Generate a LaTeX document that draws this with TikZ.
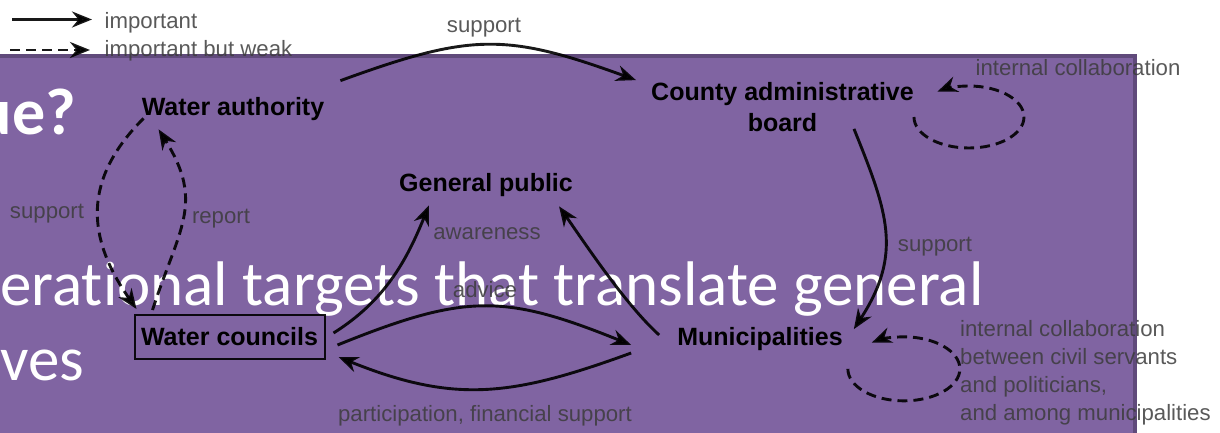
\documentclass[tikz,border=0pt]{standalone}
\usepackage{fontspec}
\setmainfont{Liberation Sans}
\newfontfamily\slidefont[Ligatures=NoCommon]{Carlito}
\usepackage{xcolor}
\usetikzlibrary{arrows.meta}
\definecolor{slidepurple}{HTML}{8064A2}
\definecolor{slideedge}{HTML}{604A7B}
\definecolor{labelgray}{HTML}{3C3C3C}
\tikzset{
    x=1pt, y=1pt, % one unit is one pixel of the slide
    actor/.style={font=\fontsize{25}{31}\selectfont\bfseries, inner sep=0pt, align=center}, % the bold names
    lbl/.style={font=\fontsize{22.2}{28}\selectfont, text=labelgray, text opacity=0.85, inner sep=0pt}, % grey texts on the edges
    big/.style={font=\slidefont\fontsize{63}{75}\selectfont, text=white, inner sep=0pt}, % slide text under the graph
}
\tikzstyle{arrow} = [line width=2.9pt, opacity=0.9, -{Stealth[length=20pt,width=16pt]}]
\tikzstyle{weak} = [arrow, dash pattern=on 10pt off 6pt]

\begin{document}
\begin{tikzpicture}
    \useasboundingbox (0,0) rectangle (1220,-433);
    % slide box behind the graph
    \fill[slidepurple] (0,-54) rectangle (1137,-433);
    \draw[slideedge, line width=4.5pt] (0,-56.25) -- (1135,-56.25) -- (1135,-433);

    % slide text
    \node[big, font=\slidefont\bfseries\fontsize{66}{75}\selectfont, anchor=base east] (title) at (76,-135) {ue?};
    \node[big, anchor=base west] (body1) at (0,-305) {erational targets that translate general};
    \node[big, anchor=base west] (body2) at (0,-380) {ves};

    % legend
    \coordinate (K1) at (12,-19.5);
    \coordinate (K1e) at (92,-19.5);
    \coordinate (K2) at (10,-50);
    \coordinate (K2e) at (90,-50);
    \draw[arrow] (K1) -- (K1e);
    \draw[weak] (K2) -- (K2e);
    \node[lbl, anchor=base west] (imp) at (104.5,-28.5) {important};
    \node[lbl, anchor=base west] (impw) at (104.5,-57) {important but weak};

    % actors
    \node[actor] (WA) at (233,-109.5) {Water authority};
    \node[actor] (CAB) at (782.5,-107) {County administrative\\board};
    \node[actor] (GP) at (486,-185.5) {General public};
    \node[actor, draw, line width=2pt, draw opacity=0.9, minimum width=190pt, minimum height=44pt] (WC) at (229.5,-337) {Water councils};
    \node[actor] (M) at (760,-339) {Municipalities};

    % links
    \draw[arrow] ([shift={(16,17)}]WA.north east) to[out=20, in=160, looseness=1.2] ([shift={(-15,2)}]CAB.north west);
    \draw[weak] ([shift={(2,3)}]WA.south west) .. controls +(225:87) and +(125:87) .. ([shift={(3,5)}]WC.north west);
    \draw[weak] ([shift={(19,4)}]WC.north west) .. controls +(72:87) and +(-58:87) .. ([shift={(17,-8)}]WA.south west);
    \draw[arrow] ([shift={(8,4)}]WC.east) .. controls +(32:60) and +(248:60) .. ([shift={(30,-8)}]GP.south west);
    \draw[arrow] ([shift={(-18,4)}]M.west) .. controls +(138:45) and +(-55:45) .. ([shift={(-14,-9)}]GP.south east);
    \draw[arrow] ([shift={(12,-8)}]WC.east) to[out=22, in=158, looseness=1.2] ([shift={(-46,-6)}]M.west);
    \draw[arrow] ([shift={(-46,-14)}]M.west) to[out=200, in=-22, looseness=1.1] ([shift={(13,3)}]WC.south east);
    \draw[arrow] ([shift={(-60,3)}]CAB.south east) .. controls +(-68:90) and +(57:90) .. ([shift={(11,-2)}]M.north east);
    \draw[weak] ([yshift=-10pt]CAB.east) arc[start angle=180, end angle=485, x radius=55, y radius=31];
    \draw[weak] ([shift={(5,-18)}]M.south east) arc[start angle=180, end angle=485, x radius=56, y radius=32];

    % texts on the links
    \node[lbl, anchor=base] (s1) at (484,-33) {support};
    \node[lbl, anchor=base] (s2) at (47,-218) {support};
    \node[lbl, anchor=base] (rep) at (221,-223) {report};
    \node[lbl, anchor=base] (aw) at (487,-239) {awareness};
    \node[lbl, anchor=base] (adv) at (485,-297) {advice};
    \node[lbl, anchor=base] (par) at (485,-421) {participation, financial support};
    \node[lbl, anchor=base] (s3) at (935,-251) {support};
    \node[lbl, anchor=base] (ic1) at (1078,-76) {internal collaboration};
    \node[lbl, align=left, anchor=north west] (ic2) at (960,-320) {internal collaboration\\between civil servants\\and politicians,\\and among municipalities};
\end{tikzpicture}
\end{document}
